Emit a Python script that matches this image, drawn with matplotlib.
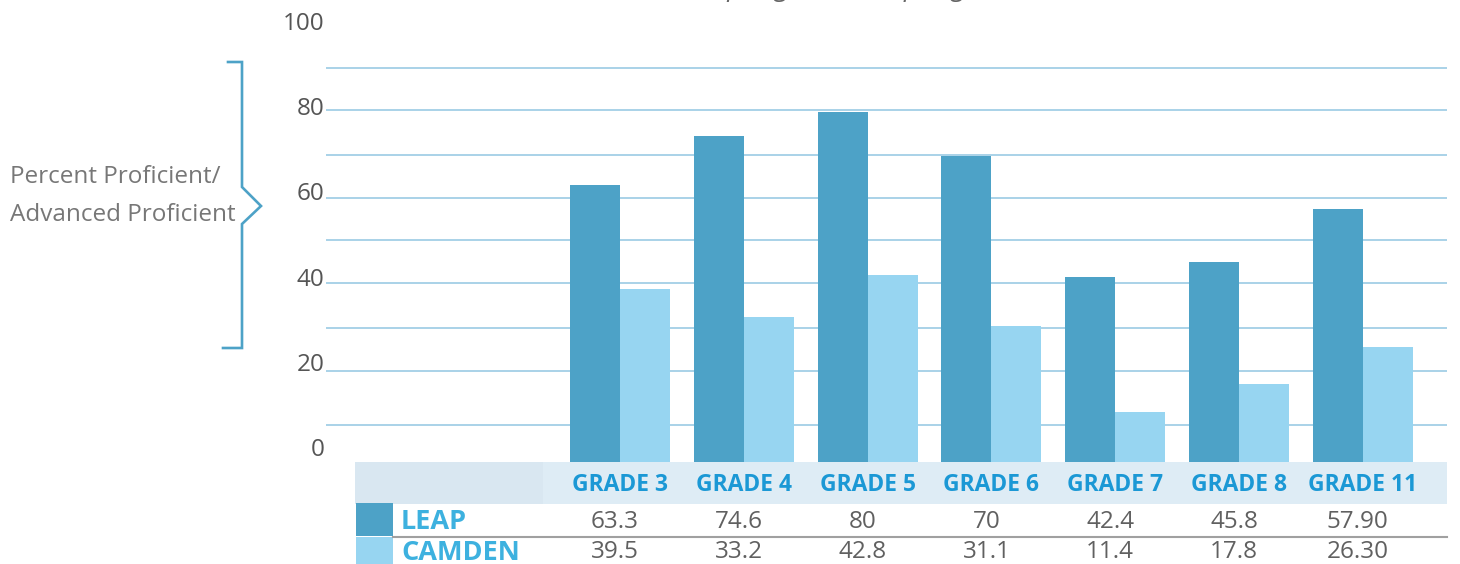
import matplotlib
matplotlib.use('Agg')
import matplotlib.pyplot as plt
from matplotlib.patches import Rectangle
from matplotlib.lines import Line2D
from matplotlib.transforms import blended_transform_factory

# data
grades = ['GRADE 3', 'GRADE 4', 'GRADE 5', 'GRADE 6', 'GRADE 7', 'GRADE 8', 'GRADE 11']
leap = [63.3, 74.6, 80, 70, 42.4, 45.8, 57.9]
camden = [39.5, 33.2, 42.8, 31.1, 11.4, 17.8, 26.3]
leap_text = ['63.3', '74.6', '80', '70', '42.4', '45.8', '57.90']
camden_text = ['39.5', '33.2', '42.8', '31.1', '11.4', '17.8', '26.30']
tick_values = [0, 20, 40, 60, 80, 100]
grid_y = [8.4, 20.8, 30.6, 40.9, 50.7, 60.3, 70.1, 80.4, 90.1]

LEAP_C = '#4da2c7'
CAMDEN_C = '#97d5f1'
GRID_C = '#a9d2e8'
GREY = '#606060'

plt.rcParams['font.family'] = ['Open Sans', 'DejaVu Sans']

W, H = 1460, 564
fig = plt.figure(figsize=(W / 100, H / 100), dpi=100)

def fx(px):
    return px / W

def fy(px):
    return 1 - px / H

# main axes: baseline at y=462px, group spacing ~123.8px
unit = 123.8
ax = fig.add_axes([fx(326), fy(462), fx(1447) - fx(326), fy(0) - fy(462)])
ax.set_xlim((326 - 620) / unit, (1447 - 620) / unit)
ax.set_ylim(0, 462 / 4.375)
for s in ax.spines.values():
    s.set_visible(False)

for g in grid_y:
    ax.axhline(g, color=GRID_C, lw=1.4, zorder=1)

x = list(range(len(grades)))
bw = 50 / unit
ax.bar([i - bw / 2 for i in x], leap, width=bw, color=LEAP_C, zorder=2)
ax.bar([i + bw / 2 for i in x], camden, width=bw, color=CAMDEN_C, zorder=2)

ax.set_xticks([])
ax.set_yticks([3.4 + 0.974 * v for v in tick_values], [str(v) for v in tick_values])
ax.tick_params(axis='y', length=0, pad=1, labelsize=17.5, labelcolor='#555555')

# title, mostly off the top of the picture (as in the source image)
fig.text(fx(714), fy(-3.5), 'Spring 2013 to Spring 2014', style='italic',
         fontsize=19, color='#666666', va='baseline', ha='left')

# axis label with bracket
fig.text(fx(10), fy(196), 'Percent Proficient/\nAdvanced Proficient', fontsize=17.5,
         color='#777777', ha='left', va='center', linespacing=1.8)
bx = [228, 242, 242, 261, 242, 242, 223]
by = [62, 62, 187, 206, 224, 348, 348]
fig.add_artist(Line2D([fx(v) for v in bx], [fy(v) for v in by], color=LEAP_C, lw=1.9,
                      solid_joinstyle='miter'))

# table below the bars
tr = blended_transform_factory(ax.transData, fig.transFigure)
fig.add_artist(Rectangle((fx(355), fy(504)), fx(543) - fx(355), fy(462) - fy(504),
                         transform=fig.transFigure, color='#d9e7f1', lw=0))
fig.add_artist(Rectangle((fx(543), fy(504)), fx(1447) - fx(543), fy(462) - fy(504),
                         transform=fig.transFigure, color='#deecf5', lw=0))
fig.add_artist(Rectangle((fx(356), fy(536)), fx(393) - fx(356), fy(503) - fy(536),
                         transform=fig.transFigure, color=LEAP_C, lw=0))
fig.add_artist(Rectangle((fx(356), fy(566)), fx(393) - fx(356), fy(537) - fy(566),
                         transform=fig.transFigure, color=CAMDEN_C, lw=0))
fig.add_artist(Line2D([fx(393), fx(1447)], [fy(536.5), fy(536.5)], color='#a0a0a0', lw=1.5))

fig.text(fx(401), fy(522), 'LEAP', fontsize=19.5, fontweight='bold', color='#3db1df',
         ha='left', va='center')
fig.text(fx(401), fy(553), 'CAMDEN', fontsize=19.5, fontweight='bold', color='#3db1df',
         ha='left', va='center')

for i, g in enumerate(grades):
    fig.text(i, fy(485), g, transform=tr, fontsize=16.5, fontweight='bold', color='#1b98d5',
             ha='center', va='center')
    fig.text(i - 0.04, fy(522), leap_text[i], transform=tr, fontsize=17.5, color=GREY,
             ha='center', va='center')
    fig.text(i - 0.04, fy(552), camden_text[i], transform=tr, fontsize=17.5, color=GREY,
             ha='center', va='center')

fig.savefig('out.png', dpi=100)
